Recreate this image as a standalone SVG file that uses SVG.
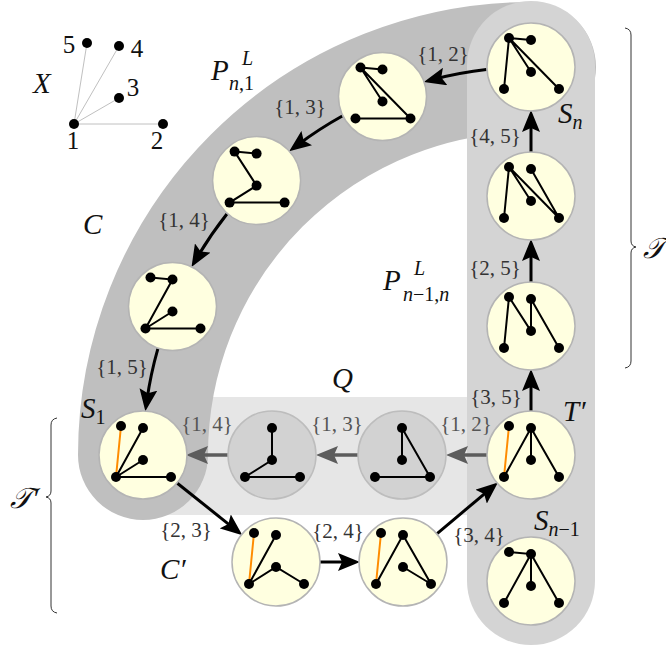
<svg xmlns="http://www.w3.org/2000/svg" xmlns:xlink="http://www.w3.org/1999/xlink" width="666" height="647" viewBox="0 0 666 647">
<style>
.bg{fill:#ffffe0;stroke:#b4b4b4;stroke-width:1.5}
.qbg{fill:#d2d2d2;stroke:#bdbdbd;stroke-width:1.5}
.e{stroke:#000;stroke-width:2;stroke-linecap:round;fill:none}
.o{stroke:#ff8c00;stroke-width:2;stroke-linecap:round}
.xe{stroke:#c0c0c0;stroke-width:1}
.ar{stroke:#000;stroke-width:3;fill:none;marker-end:url(#ah)}
.ga{stroke:#5c5c5c;stroke-width:3.5;fill:none;marker-end:url(#gh)}
.lbl{font-family:"Liberation Serif","Times New Roman","DejaVu Serif",serif;font-size:21px;fill:#333;text-anchor:middle}
.ql{fill:#555}
.m{font-family:"Liberation Serif","Times New Roman","DejaVu Serif",serif;font-style:italic;font-size:29px;fill:#111}
.s{font-size:20px}
.up{font-style:normal}
.dig{font-family:"Liberation Serif","Times New Roman","DejaVu Serif",serif;font-size:25px;fill:#111;text-anchor:middle}
.br{stroke:#333;stroke-width:1;fill:none}
</style>
<defs>
<marker id="ah" markerUnits="userSpaceOnUse" viewBox="0 0 22 18" markerWidth="22" markerHeight="18" refX="11" refY="9" orient="auto">
<path d="M0,0 L22,9 L0,18 L4,9 z" fill="#000"/>
</marker>
<marker id="gh" markerUnits="userSpaceOnUse" viewBox="0 0 22 18" markerWidth="22" markerHeight="18" refX="11" refY="9" orient="auto">
<path d="M0,0 L22,9 L0,18 L4,9 z" fill="#5c5c5c"/>
</marker>
<g id="d4">
<circle cx="-27" cy="22" r="5"/><circle cx="28" cy="22" r="5"/><circle cx="0" cy="5" r="5"/><circle cx="0" cy="-27" r="5"/>
</g>
<g id="d5">
<use xlink:href="#d4" href="#d4"/><circle cx="-22" cy="-29" r="5"/>
</g>
</defs>

<g id="regions">
<path d="M150,456 L531,456" stroke="#e6e6e6" stroke-width="118" fill="none"/>
<path d="M531,67 A388,388 0 0 0 143,455" stroke="#bfbfbf" stroke-width="130" stroke-linecap="round" fill="none"/>
<path d="M531,65 L531,581" stroke="#d4d4d4" stroke-width="128" stroke-linecap="round" fill="none"/>
</g>

<g id="X">
<line class="xe" x1="74" y1="124" x2="87" y2="43"/>
<line class="xe" x1="74" y1="124" x2="119" y2="46"/>
<line class="xe" x1="74" y1="124" x2="119" y2="98"/>
<line class="xe" x1="74" y1="124" x2="163" y2="124"/>
<circle cx="74" cy="124" r="5"/><circle cx="87" cy="43" r="5"/><circle cx="119" cy="46" r="5"/><circle cx="119" cy="98" r="5"/><circle cx="163" cy="124" r="5"/>
<text class="dig" x="69" y="53">5</text>
<text class="dig" x="137" y="57">4</text>
<text class="dig" x="133" y="96">3</text>
<text class="dig" x="73" y="149">1</text>
<text class="dig" x="157" y="149">2</text>
<text class="m" x="33" y="93">X</text>
</g>

<g id="connectors">
<path class="ar" d="M486.4,69.6 A388,388 0 0 0 434.5,79.2"/>
<path class="ar" d="M342.3,116 A388,388 0 0 0 298,144.7"/>
<path class="ar" d="M226.9,214 A388,388 0 0 0 197.1,257.5"/>
<path class="ar" d="M157.9,348.7 A388,388 0 0 0 146.9,400.3"/>
<path class="ga" d="M487,455 L457,455"/>
<path class="ga" d="M358,455 L327,455"/>
<path class="ga" d="M229,455 L197,455"/>
<path class="ar" d="M176.4,482.5 L233.8,528.3"/>
<path class="ar" d="M320,562 L349,562"/>
<path class="ar" d="M436.8,533.8 L489.5,489.6"/>
<path class="ar" d="M531,411 L531,380"/>
<path class="ar" d="M531,282 L531,250"/>
<path class="ar" d="M531,152 L531,121"/>
</g>

<g id="Sn" transform="translate(531,67)">
<circle class="bg" r="44"/>
<path class="e" d="M-22,-29 L0,-27 M-22,-29 L-27,22 M-22,-29 L0,5 M-22,-29 L28,22"/>
<use xlink:href="#d5" href="#d5"/>
</g>
<g id="P1" transform="translate(382.5,96.5)">
<circle class="bg" r="44"/>
<path class="e" d="M-22,-29 L0,-27 M-22,-29 L0,5 M-22,-29 L28,22 M-27,22 L28,22"/>
<use xlink:href="#d5" href="#d5"/>
</g>
<g id="P2" transform="translate(256.6,180.6)">
<circle class="bg" r="44"/>
<path class="e" d="M-22,-29 L0,-27 M-22,-29 L0,5 L-27,22 L28,22"/>
<use xlink:href="#d5" href="#d5"/>
</g>
<g id="P3" transform="translate(172.5,306.5)">
<circle class="bg" r="44"/>
<path class="e" d="M-22,-29 L0,-27 L-27,22 L28,22 M-27,22 L0,5"/>
<use xlink:href="#d5" href="#d5"/>
</g>
<g id="S1" transform="translate(143,455)">
<circle class="bg" r="44"/>
<line class="o" x1="-27" y1="22" x2="-22" y2="-29"/>
<path class="e" d="M-27,22 L0,-27 M-27,22 L0,5 M-27,22 L28,22"/>
<use xlink:href="#d5" href="#d5"/>
</g>
<g id="Q1" transform="translate(272,455)">
<circle class="qbg" r="44"/>
<path class="e" d="M0,-27 L0,5 L-27,22 L28,22"/>
<use xlink:href="#d4" href="#d4"/>
</g>
<g id="Q2" transform="translate(402,455)">
<circle class="qbg" r="44"/>
<path class="e" d="M0,5 L0,-27 L28,22 L-27,22"/>
<use xlink:href="#d4" href="#d4"/>
</g>
<g id="Tp" transform="translate(531,455)">
<circle class="bg" r="44"/>
<line class="o" x1="-27" y1="22" x2="-22" y2="-29"/>
<path class="e" d="M-27,22 L0,-27 L0,5 M0,-27 L28,22"/>
<use xlink:href="#d5" href="#d5"/>
</g>
<g id="R2" transform="translate(531,326)">
<circle class="bg" r="44"/>
<path class="e" d="M-27,22 L-22,-29 L0,5 L0,-27 L28,22"/>
<use xlink:href="#d5" href="#d5"/>
</g>
<g id="R1" transform="translate(531,196)">
<circle class="bg" r="44"/>
<path class="e" d="M-27,22 L-22,-29 L0,5 M-22,-29 L28,22 L0,-27"/>
<use xlink:href="#d5" href="#d5"/>
</g>
<g id="Sn1" transform="translate(531,581)">
<circle class="bg" r="44"/>
<path class="e" d="M-22,-29 L0,-27 L-27,22 M0,-27 L0,5 M0,-27 L28,22"/>
<use xlink:href="#d5" href="#d5"/>
</g>
<g id="C1" transform="translate(276,562)">
<circle class="bg" r="44"/>
<line class="o" x1="-27" y1="22" x2="-22" y2="-29"/>
<path class="e" d="M-27,22 L0,-27 M-27,22 L0,5 L28,22"/>
<use xlink:href="#d5" href="#d5"/>
</g>
<g id="C2" transform="translate(403,562)">
<circle class="bg" r="44"/>
<line class="o" x1="-27" y1="22" x2="-22" y2="-29"/>
<path class="e" d="M-27,22 L0,-27 L28,22 L0,5"/>
<use xlink:href="#d5" href="#d5"/>
</g>

<g id="edge-labels">
<text class="lbl" x="443" y="61">{1, 2}</text>
<text class="lbl" x="300" y="114">{1, 3}</text>
<text class="lbl" x="184" y="227">{1, 4}</text>
<text class="lbl" x="122" y="374">{1, 5}</text>
<text class="lbl" x="495" y="143">{4, 5}</text>
<text class="lbl" x="495" y="275">{2, 5}</text>
<text class="lbl" x="496" y="404">{3, 5}</text>
<text class="lbl ql" x="466" y="431">{1, 2}</text>
<text class="lbl ql" x="337" y="431">{1, 3}</text>
<text class="lbl ql" x="207" y="431">{1, 4}</text>
<text class="lbl" x="186" y="537">{2, 3}</text>
<text class="lbl" x="338" y="538">{2, 4}</text>
<text class="lbl" x="479" y="542">{3, 4}</text>
</g>

<g id="labels">
<text class="m" x="211" y="80">P</text>
<text class="m s" x="242" y="65">L</text>
<text class="m s" x="229" y="90">n<tspan class="up">,1</tspan></text>
<text class="m" x="383" y="290">P</text>
<text class="m s" x="414" y="275">L</text>
<text class="m s" x="403" y="301">n<tspan class="up">−1,</tspan>n</text>
<text class="m" x="83" y="234">C</text>
<text class="m" x="160" y="579">C′</text>
<text class="m" x="332" y="388">Q</text>
<text class="m" x="81" y="418">S<tspan class="s up" dy="6">1</tspan></text>
<text class="m" x="563" y="421">T′</text>
<text class="m" x="558" y="123">S<tspan class="s" dy="6">n</tspan></text>
<text class="m" x="534" y="530">S<tspan class="s" dy="6">n</tspan><tspan class="s up">−1</tspan></text>
<text class="m" x="10" y="508">𝒯′</text>
<text class="m" x="643" y="258">𝒯</text>
</g>

<g id="braces">
<path class="br" d="M625,28 Q631,29 631,35 L631,241 Q631,246 636,247 Q631,248 631,253 L631,361 Q631,367 625,368"/>
<path class="br" d="M57,418 Q51,419 51,425 L51,491 Q51,496 46,497 Q51,498 51,503 L51,606 Q51,612 57,613"/>
</g>
</svg>
